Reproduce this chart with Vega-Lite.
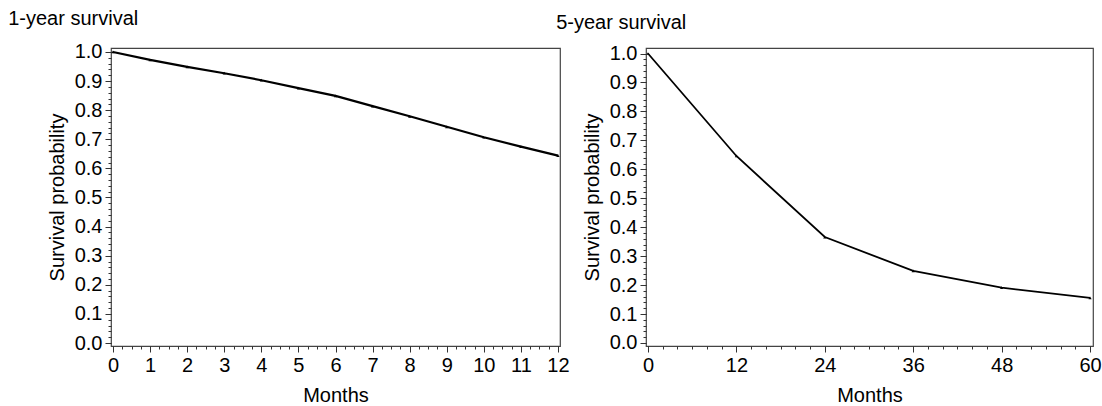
{
  "$schema": "https://vega.github.io/schema/vega-lite/v6.json",
  "padding": {"left": 7, "top": 8, "right": 2, "bottom": 2},
  "config": {
    "font": "Liberation Sans",
    "view": {"stroke": "#444", "strokeWidth": 1.2},
    "axis": {"grid": false, "domain": false, "labelFont": "Liberation Sans", "labelFontSize": 20, "labelColor": "#000", "titleFont": "Liberation Sans", "titleFontSize": 20, "titleFontWeight": "normal", "titleColor": "#000", "tickColor": "#333", "tickSize": 6, "labelPadding": 3},
    "title": {"font": "Liberation Sans", "fontSize": 20, "fontWeight": "normal", "anchor": "start", "color": "#000"}
  },
  "spacing": -15,
  "datasets": {
    "oneYear": [
      {"month": 0, "survival": 1.0},
      {"month": 1, "survival": 0.973},
      {"month": 2, "survival": 0.949},
      {"month": 3, "survival": 0.927},
      {"month": 4, "survival": 0.903},
      {"month": 5, "survival": 0.876},
      {"month": 6, "survival": 0.849},
      {"month": 7, "survival": 0.814},
      {"month": 8, "survival": 0.779},
      {"month": 9, "survival": 0.743},
      {"month": 10, "survival": 0.707},
      {"month": 11, "survival": 0.675},
      {"month": 12, "survival": 0.644}
    ],
    "fiveYear": [
      {"month": 0, "survival": 1.0},
      {"month": 12, "survival": 0.646},
      {"month": 24, "survival": 0.366},
      {"month": 36, "survival": 0.249},
      {"month": 48, "survival": 0.191},
      {"month": 60, "survival": 0.156}
    ]
  },
  "hconcat": [
    {
      "width": 449,
      "height": 298,
      "title": {"text": "1-year survival", "dx": -39, "offset": 13},
      "data": {"name": "oneYear"},
      "resolve": {"axis": {"x": "independent", "y": "independent"}},
      "layer": [
        {
          "mark": {"type": "line", "color": "black", "strokeWidth": 2.2},
          "encoding": {
            "x": {"field": "month", "type": "quantitative", "scale": {"domain": [-0.054, 12.054], "nice": false, "zero": false},
                  "axis": {"orient": "bottom", "values": [0,1,2,3,4,5,6,7,8,9,10,11,12], "title": "Months", "titlePadding": 10}},
            "y": {"field": "survival", "type": "quantitative", "scale": {"domain": [-0.0103, 1.0137], "nice": false, "zero": false},
                  "axis": {"orient": "left", "values": [0,0.1,0.2,0.3,0.4,0.5,0.6,0.7,0.8,0.9,1.0], "format": ".1f", "title": "Survival probability", "titlePadding": 7}}
          }
        },
        {
          "mark": {"type": "point", "shape": "triangle-up", "filled": true, "color": "black", "size": 10, "opacity": 1},
          "encoding": {
            "x": {"field": "month", "type": "quantitative",
                  "axis": {"orient": "bottom", "values": [0,0.25,0.5,0.75,1,1.25,1.5,1.75,2,2.25,2.5,2.75,3,3.25,3.5,3.75,4,4.25,4.5,4.75,5,5.25,5.5,5.75,6,6.25,6.5,6.75,7,7.25,7.5,7.75,8,8.25,8.5,8.75,9,9.25,9.5,9.75,10,10.25,10.5,10.75,11,11.25,11.5,11.75,12], "labels": false, "tickSize": 3, "title": null}},
            "y": {"field": "survival", "type": "quantitative",
                  "axis": {"orient": "left", "values": [0,0.02,0.04,0.06,0.08,0.1,0.12,0.14,0.16,0.18,0.2,0.22,0.24,0.26,0.28,0.3,0.32,0.34,0.36,0.38,0.4,0.42,0.44,0.46,0.48,0.5,0.52,0.54,0.56,0.58,0.6,0.62,0.64,0.66,0.68,0.7,0.72,0.74,0.76,0.78,0.8,0.82,0.84,0.86,0.88,0.9,0.92,0.94,0.96,0.98,1.0], "labels": false, "tickSize": 3, "title": null}}
          }
        }
      ]
    },
    {
      "width": 447,
      "height": 298,
      "title": {"text": "5-year survival", "dx": -26, "offset": 11},
      "data": {"name": "fiveYear"},
      "resolve": {"axis": {"x": "independent", "y": "independent"}},
      "layer": [
        {
          "mark": {"type": "line", "color": "black", "strokeWidth": 1.8},
          "encoding": {
            "x": {"field": "month", "type": "quantitative", "scale": {"domain": [-0.27, 60.4], "nice": false, "zero": false},
                  "axis": {"orient": "bottom", "values": [0,12,24,36,48,60], "title": "Months", "titlePadding": 10}},
            "y": {"field": "survival", "type": "quantitative", "scale": {"domain": [-0.0104, 1.019], "nice": false, "zero": false},
                  "axis": {"orient": "left", "values": [0,0.1,0.2,0.3,0.4,0.5,0.6,0.7,0.8,0.9,1.0], "format": ".1f", "title": "Survival probability", "titlePadding": 7}}
          }
        },
        {
          "mark": {"type": "point", "shape": "triangle-up", "filled": true, "color": "black", "size": 10, "opacity": 1},
          "encoding": {
            "x": {"field": "month", "type": "quantitative",
                  "axis": {"orient": "bottom", "values": [0,2,4,6,8,10,12,14,16,18,20,22,24,26,28,30,32,34,36,38,40,42,44,46,48,50,52,54,56,58,60], "labels": false, "tickSize": 3, "title": null}},
            "y": {"field": "survival", "type": "quantitative",
                  "axis": {"orient": "left", "values": [0,0.02,0.04,0.06,0.08,0.1,0.12,0.14,0.16,0.18,0.2,0.22,0.24,0.26,0.28,0.3,0.32,0.34,0.36,0.38,0.4,0.42,0.44,0.46,0.48,0.5,0.52,0.54,0.56,0.58,0.6,0.62,0.64,0.66,0.68,0.7,0.72,0.74,0.76,0.78,0.8,0.82,0.84,0.86,0.88,0.9,0.92,0.94,0.96,0.98,1.0], "labels": false, "tickSize": 3, "title": null}}
          }
        }
      ]
    }
  ]
}
